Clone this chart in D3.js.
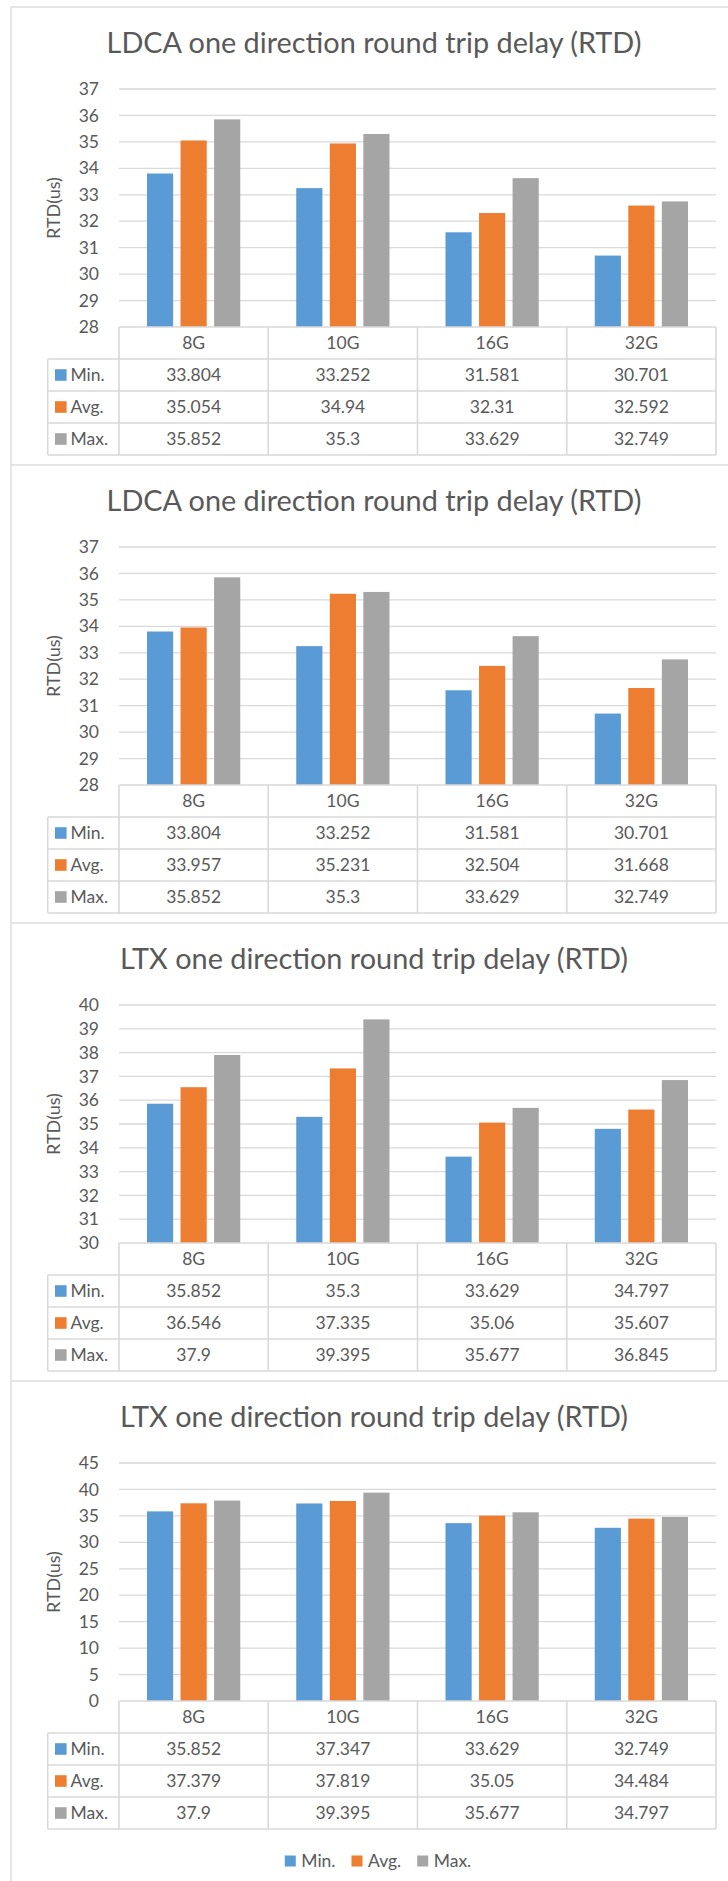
<!DOCTYPE html>
<html>
<head>
<meta charset="utf-8">
<script src="https://cdn.jsdelivr.net/npm/d3@7"></script>
<style>
  body { margin: 0; background: #fff; }
  svg { display: block; font-family: Lato, "Open Sans", sans-serif; }
</style>
</head>
<body>
<div class="charts"></div>
<script>
var categories = ["8G", "10G", "16G", "32G"];
var seriesNames = ["Min.", "Avg.", "Max."];
var seriesColors = ["#5b9bd5", "#ed7d31", "#a5a5a5"];

var titles = [
  "LDCA one direction round trip delay (RTD)",
  "LDCA one direction round trip delay (RTD)",
  "LTX one direction round trip delay (RTD)",
  "LTX one direction round trip delay (RTD)"
];
var yDomains = [[28, 37], [28, 37], [30, 40], [0, 45]];
var yTickSteps = [1, 1, 1, 5];

var c1Min = [33.804, 33.252, 31.581, 30.701];
var c1Avg = [35.054, 34.94, 32.31, 32.592];
var c1Max = [35.852, 35.3, 33.629, 32.749];

var c2Min = [33.804, 33.252, 31.581, 30.701];
var c2Avg = [33.957, 35.231, 32.504, 31.668];
var c2Max = [35.852, 35.3, 33.629, 32.749];

var c3Min = [35.852, 35.3, 33.629, 34.797];
var c3Avg = [36.546, 37.335, 35.06, 35.607];
var c3Max = [37.9, 39.395, 35.677, 36.845];

var c4Min = [35.852, 37.347, 33.629, 32.749];
var c4Avg = [37.379, 37.819, 35.05, 34.484];
var c4Max = [37.9, 39.395, 35.677, 34.797];

var chartSeries = [
  [c1Min, c1Avg, c1Max],
  [c2Min, c2Avg, c2Max],
  [c3Min, c3Avg, c3Max],
  [c4Min, c4Avg, c4Max]
];

// layout (per panel, panels repeat every 458px)
var panelStep = 458;
var plotLeft = 119, plotRight = 716, plotTop = 89, plotBottom = 327;
var tableLeft = 47.7, rowH = 32;
var textColor = "#595959", lineColor = "#d9d9d9";

var svg = d3.select('.charts')
  .append('svg')
  .attr('width', 728)
  .attr('height', 1881);

// outer frame, left edge
svg.append('line')
  .attr('x1', 11).attr('x2', 11)
  .attr('y1', 7).attr('y2', 1881)
  .style('stroke', '#dcdcdc').style('stroke-width', 1.5);

var x0 = d3.scaleBand().domain(categories).range([plotLeft, plotRight]);
var x1 = d3.scaleBand().domain(seriesNames)
  .range([28, x0.bandwidth() - 28])
  .paddingInner(0.22);

// fit title size once
var probe = svg.append('text').style('font-size', '28px').text(titles[0]);
var titleSize = 28 * 535 / probe.node().getComputedTextLength();
probe.remove();

chartSeries.forEach(function (series, ci) {
  var g = svg.append('g').attr('transform', 'translate(0,' + (ci * panelStep) + ')');

  g.append('line')
    .attr('x1', 11).attr('x2', 728)
    .attr('y1', 7).attr('y2', 7)
    .style('stroke', '#dcdcdc').style('stroke-width', 1.5);

  g.append('text')
    .attr('x', 374).attr('y', 53)
    .attr('text-anchor', 'middle')
    .style('font-size', titleSize + 'px')
    .style('fill', textColor)
    .text(titles[ci]);

  var dom = yDomains[ci];
  var y = d3.scaleLinear().domain(dom).range([plotBottom, plotTop]);
  var ticks = d3.range(dom[0], dom[1] + 0.001, yTickSteps[ci]);

  g.selectAll('line.grid')
    .data(ticks.slice(1))
    .enter()
    .append('line')
    .attr('class', 'grid')
    .attr('x1', plotLeft).attr('x2', plotRight)
    .attr('y1', function (d) { return y(d); })
    .attr('y2', function (d) { return y(d); })
    .style('stroke', lineColor).style('stroke-width', 1.3);

  var axis = g.append('g')
    .attr('transform', 'translate(' + plotLeft + ',0)')
    .call(d3.axisLeft(y).tickValues(ticks).tickSize(0).tickPadding(20));
  axis.select('.domain').remove();
  axis.selectAll('text')
    .style('font-family', 'Lato, sans-serif')
    .style('font-size', '17.5px')
    .style('fill', textColor);

  g.append('text')
    .attr('transform', 'translate(60,' + ((plotTop + plotBottom) / 2) + ') rotate(-90)')
    .attr('text-anchor', 'middle')
    .style('font-size', '18px')
    .style('fill', textColor)
    .text('RTD(us)');

  // bars
  series.forEach(function (vals, si) {
    g.selectAll('rect.s' + si)
      .data(vals)
      .enter()
      .append('rect')
      .attr('class', 's' + si)
      .attr('x', function (d, i) { return x0(categories[i]) + x1(seriesNames[si]); })
      .attr('width', x1.bandwidth())
      .attr('y', function (d) { return y(d); })
      .attr('height', function (d) { return plotBottom - y(d); })
      .style('fill', seriesColors[si]);
  });

  // data table
  var tbl = g.append('g');
  var rowTops = d3.range(5).map(function (r) { return plotBottom + r * rowH; });
  rowTops.forEach(function (ry, r) {
    tbl.append('line')
      .attr('x1', r === 0 ? plotLeft : tableLeft).attr('x2', plotRight)
      .attr('y1', ry).attr('y2', ry)
      .style('stroke', lineColor).style('stroke-width', 1.6);
  });
  tbl.append('line')
    .attr('x1', tableLeft).attr('x2', tableLeft)
    .attr('y1', rowTops[1]).attr('y2', rowTops[4])
    .style('stroke', lineColor).style('stroke-width', 1.6);
  categories.concat([null]).forEach(function (c) {
    var xx = c === null ? plotRight : x0(c);
    tbl.append('line')
      .attr('x1', xx).attr('x2', xx)
      .attr('y1', rowTops[0]).attr('y2', rowTops[4])
      .style('stroke', lineColor).style('stroke-width', 1.6);
  });

  tbl.selectAll('text.cat')
    .data(categories)
    .enter()
    .append('text')
    .attr('class', 'cat')
    .attr('x', function (d) { return x0(d) + x0.bandwidth() / 2; })
    .attr('y', rowTops[0] + rowH / 2)
    .attr('dy', '0.35em')
    .attr('text-anchor', 'middle')
    .style('font-size', '17.5px')
    .style('fill', textColor)
    .text(function (d) { return d; });

  series.forEach(function (vals, si) {
    var cy = rowTops[si + 1] + rowH / 2;
    tbl.append('rect')
      .attr('x', 55).attr('y', cy - 5.8)
      .attr('width', 11.6).attr('height', 11.6)
      .style('fill', seriesColors[si]);
    tbl.append('text')
      .attr('x', 70.5).attr('y', cy)
      .attr('dy', '0.35em')
      .style('font-size', '17.5px')
      .style('fill', textColor)
      .text(seriesNames[si]);
    tbl.selectAll('text.v' + si)
      .data(vals)
      .enter()
      .append('text')
      .attr('class', 'v' + si)
      .attr('x', function (d, i) { return x0(categories[i]) + x0.bandwidth() / 2; })
      .attr('y', cy)
      .attr('dy', '0.35em')
      .attr('text-anchor', 'middle')
      .style('font-size', '17.5px')
      .style('fill', textColor)
      .text(function (d) { return String(d); });
  });

  // legend under the last chart only
  if (ci === chartSeries.length - 1) {
    var lg = g.append('g');
    var lx = 0;
    seriesNames.forEach(function (name, si) {
      var item = lg.append('g').attr('transform', 'translate(' + lx + ',0)');
      item.append('rect')
        .attr('x', 0).attr('y', -5.5)
        .attr('width', 11).attr('height', 11)
        .style('fill', seriesColors[si]);
      var t = item.append('text')
        .attr('x', 16.5).attr('dy', '0.35em')
        .style('font-size', '17.5px')
        .style('fill', textColor)
        .text(name);
      lx += 16.5 + t.node().getComputedTextLength() + 16;
    });
    lx -= 16;
    lg.attr('transform', 'translate(' + (378 - lx / 2) + ',' + 487 + ')');
  }
});
</script>
</body>
</html>
